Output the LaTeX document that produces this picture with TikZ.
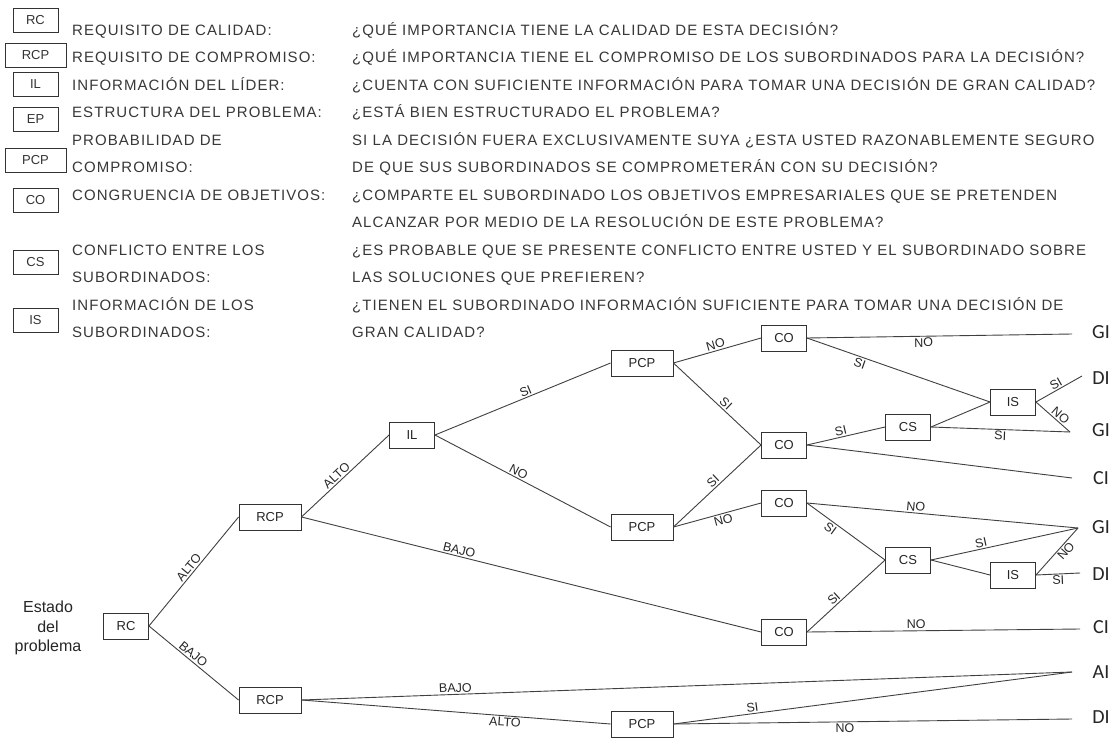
\documentclass[tikz,border=0pt]{standalone}
\usepackage{fontspec}
\setmainfont{Liberation Sans}
\newfontfamily\leaffont{Carlito}
\begin{document}
\begin{tikzpicture}[x=1pt,y=-1pt,
  lbox/.style={draw=black!80, line width=0.9pt, minimum width=45pt, minimum height=24pt, inner sep=0pt, font=\fontsize{13}{15}\selectfont, text=black!80},
  lboxw/.style={lbox, minimum width=61pt},
  ltext/.style={anchor=base west, inner sep=0pt, font=\fontsize{15}{18}\selectfont\addfontfeature{LetterSpace=7}, text=black!78},
  tbox/.style={draw=black!80, line width=0.9pt, minimum width=45pt, minimum height=26pt, inner sep=0pt, font=\fontsize{13}{15}\selectfont, fill=white, text=black!85},
  tboxw/.style={tbox, minimum width=62pt},
  elab/.style={font=\fontsize{12.5}{14}\selectfont, inner sep=1.5pt, text=black!85},
  leaf/.style={font=\leaffont\fontsize{20}{22}\selectfont, text=black!85, inner sep=0pt},
  edge/.style={draw=black!75, line width=0.9pt}
]
\useasboundingbox[fill=white] (0,0) rectangle (1115,738);

% ---- legend: abbreviations ----
\node[lbox]  (kRC)  at (35.5,20.5) {RC};
\node[lboxw] (kRCP) at (35.5,55)   {RCP};
\node[lbox]  (kIL)  at (35.5,84.5) {IL};
\node[lbox]  (kEP)  at (35.5,119)  {EP};
\node[lboxw] (kPCP) at (35.5,160)  {PCP};
\node[lbox]  (kCO)  at (35.5,200)  {CO};
\node[lbox]  (kCS)  at (35.5,262)  {CS};
\node[lbox]  (kIS)  at (35.5,320)  {IS};

% ---- legend: names ----
\node[ltext] (a1)  at (72,35.4)  {REQUISITO DE CALIDAD:};
\node[ltext] (a2)  at (72,62.9)  {REQUISITO DE COMPROMISO:};
\node[ltext] (a3)  at (72,90.4)  {INFORMACIÓN DEL LÍDER:};
\node[ltext] (a4)  at (72,117.9) {ESTRUCTURA DEL PROBLEMA:};
\node[ltext] (a5)  at (72,145.4) {PROBABILIDAD DE};
\node[ltext] (a6)  at (72,172.9) {COMPROMISO:};
\node[ltext] (a7)  at (72,200.4) {CONGRUENCIA DE OBJETIVOS:};
\node[ltext] (a9)  at (72,255.4) {CONFLICTO ENTRE LOS};
\node[ltext] (a10) at (72,282.9) {SUBORDINADOS:};
\node[ltext] (a11) at (72,310.4) {INFORMACIÓN DE LOS};
\node[ltext] (a12) at (72,337.9) {SUBORDINADOS:};

% ---- legend: questions ----
\node[ltext] (q1)  at (352,35.4)  {¿QUÉ IMPORTANCIA TIENE LA CALIDAD DE ESTA DECISIÓN?};
\node[ltext] (q2)  at (352,62.9)  {¿QUÉ IMPORTANCIA TIENE EL COMPROMISO DE LOS SUBORDINADOS PARA LA DECISIÓN?};
\node[ltext] (q3)  at (352,90.4)  {¿CUENTA CON SUFICIENTE INFORMACIÓN PARA TOMAR UNA DECISIÓN DE GRAN CALIDAD?};
\node[ltext] (q4)  at (352,117.9) {¿ESTÁ BIEN ESTRUCTURADO EL PROBLEMA?};
\node[ltext] (q5)  at (352,145.4) {SI LA DECISIÓN FUERA EXCLUSIVAMENTE SUYA ¿ESTA USTED RAZONABLEMENTE SEGURO};
\node[ltext] (q6)  at (352,172.9) {DE QUE SUS SUBORDINADOS SE COMPROMETERÁN CON SU DECISIÓN?};
\node[ltext] (q7)  at (352,200.4) {¿COMPARTE EL SUBORDINADO LOS OBJETIVOS EMPRESARIALES QUE SE PRETENDEN};
\node[ltext] (q8)  at (352,227.9) {ALCANZAR POR MEDIO DE LA RESOLUCIÓN DE ESTE PROBLEMA?};
\node[ltext] (q9)  at (352,255.4) {¿ES PROBABLE QUE SE PRESENTE CONFLICTO ENTRE USTED Y EL SUBORDINADO SOBRE};
\node[ltext] (q10) at (352,282.9) {LAS SOLUCIONES QUE PREFIEREN?};
\node[ltext] (q11) at (352,310.4) {¿TIENEN EL SUBORDINADO INFORMACIÓN SUFICIENTE PARA TOMAR UNA DECISIÓN DE};
\node[ltext] (q12) at (352,337.9) {GRAN CALIDAD?};

% ---- decision tree: nodes ----
\node[align=center, font=\fontsize{16}{19.5}\selectfont, text=black!85] (estado) at (48,628) {Estado\\del\\problema};
\node[tbox]  (rc)   at (126,626)  {RC};
\node[tboxw] (rcpa) at (270,517)  {RCP};
\node[tboxw] (rcpb) at (270,700)  {RCP};
\node[tbox]  (il)   at (412,435)  {IL};
\node[tboxw] (pcpa) at (642,363)  {PCP};
\node[tboxw] (pcpb) at (642,527)  {PCP};
\node[tboxw] (pcpc) at (642,724)  {PCP};
\node[tbox]  (coa)  at (784,338)  {CO};
\node[tbox]  (cob)  at (784,445)  {CO};
\node[tbox]  (coc)  at (784,503)  {CO};
\node[tbox]  (cod)  at (784,632)  {CO};
\node[tbox]  (csa)  at (908,427)  {CS};
\node[tbox]  (csb)  at (908,560)  {CS};
\node[tbox]  (isa)  at (1013,402) {IS};
\node[tbox]  (isb)  at (1013,575) {IS};

% ---- outcomes ----
\coordinate (e1) at (1072,334);
\coordinate (e2) at (1082,376);
\coordinate (e3) at (1070,432);
\coordinate (e4) at (1072,478);
\coordinate (e5) at (1078,528);
\coordinate (e6) at (1080,573);
\coordinate (e7) at (1080,629);
\coordinate (e8) at (1072,672);
\coordinate (e9) at (1072,719);
\node[leaf] (o1) at (1101,332) {GI};
\node[leaf] (o2) at (1101,378) {DI};
\node[leaf] (o3) at (1101,430) {GI};
\node[leaf] (o4) at (1101,478) {CI};
\node[leaf] (o5) at (1101,527) {GI};
\node[leaf] (o6) at (1101,574) {DI};
\node[leaf] (o7) at (1101,627) {CI};
\node[leaf] (o8) at (1101,672) {AI};
\node[leaf] (o9) at (1101,717) {DI};

% ---- branches ----
\draw[edge] (rc.east) -- node[elab,sloped,above,pos=0.5]{ALTO} (rcpa.west);
\draw[edge] (rc.east) -- node[elab,sloped,above,pos=0.45]{BAJO} (rcpb.west);
\draw[edge] (rcpa.east) -- node[elab,sloped,above,pos=0.45]{ALTO} (il.west);
\draw[edge] (rcpa.east) -- node[elab,sloped,above,pos=0.34]{BAJO} (cod.west);
\draw[edge] (rcpb.east) -- node[elab,sloped,above,pos=0.2]{BAJO} (e8);
\draw[edge] (rcpb.east) -- node[elab,sloped,below,pos=0.66]{ALTO} (pcpc.west);
\draw[edge] (il.east) -- node[elab,sloped,above,pos=0.53]{SI} (pcpa.west);
\draw[edge] (il.east) -- node[elab,sloped,above,pos=0.46]{NO} (pcpb.west);
\draw[edge] (pcpa.east) -- node[elab,sloped,above,pos=0.5]{NO} (coa.west);
\draw[edge] (pcpa.east) -- node[elab,sloped,above,pos=0.55]{SI} (cob.west);
\draw[edge] (pcpb.east) -- node[elab,sloped,above,pos=0.5]{SI} (cob.west);
\draw[edge] (pcpb.east) -- node[elab,sloped,below,pos=0.55]{NO} (coc.west);
\draw[edge] (coa.east) -- node[elab,sloped,below,pos=0.44]{NO} (e1);
\draw[edge] (coa.east) -- node[elab,sloped,below,pos=0.3]{SI} (isa.west);
\draw[edge] (cob.east) -- node[elab,sloped,above,pos=0.45]{SI} (csa.west);
\draw[edge] (cob.east) -- (e4);
\draw[edge] (csa.east) -- (isa.west);
\draw[edge] (csa.east) -- node[elab,sloped,below,pos=0.5]{SI} (e3);
\draw[edge] (isa.east) -- node[elab,sloped,above,pos=0.5]{SI} (e2);
\draw[edge] (isa.east) -- node[elab,sloped,above,pos=0.6]{NO} (e3);
\draw[edge] (coc.east) -- node[elab,sloped,above,pos=0.4]{NO} (e5);
\draw[edge] (coc.east) -- node[elab,sloped,below,pos=0.35]{SI} (csb.west);
\draw[edge] (cod.east) -- node[elab,sloped,above,pos=0.4]{SI} (csb.west);
\draw[edge] (cod.east) -- node[elab,sloped,above,pos=0.4]{NO} (e7);
\draw[edge] (csb.east) -- node[elab,sloped,above,pos=0.35]{SI} (e5);
\draw[edge] (csb.east) -- (isb.west);
\draw[edge] (isb.east) -- node[elab,sloped,below,pos=0.6]{NO} (e5);
\draw[edge] (isb.east) -- node[elab,sloped,below,pos=0.5]{SI} (e6);
\draw[edge] (pcpc.east) -- node[elab,sloped,above,pos=0.2]{SI} (e8);
\draw[edge] (pcpc.east) -- node[elab,sloped,below,pos=0.43]{NO} (e9);
\end{tikzpicture}
\end{document}
